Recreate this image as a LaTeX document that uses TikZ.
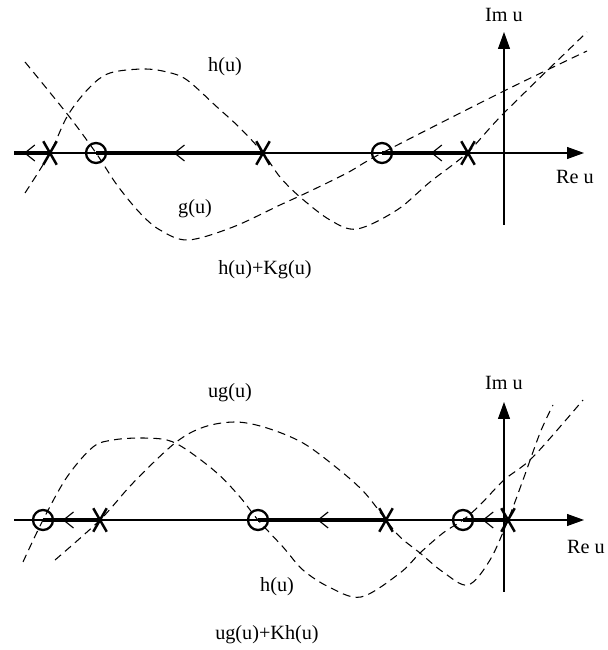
\documentclass[tikz,border=0pt]{standalone}
\usepackage{fontspec}
\setmainfont{Liberation Serif}
\usepackage{tikz}
\usetikzlibrary{arrows.meta, decorations.markings, shapes.misc}
\tikzset{
  axis/.style={line width=0.6pt, -{Triangle[length=0.34cm, width=0.24cm]}},
  locus/.style={line width=1.9pt},
  flow/.style={postaction={decorate}, decoration={markings,
    mark=at position #1 with {\draw[line width=0.65pt] (-0.2cm,0.16cm) -- (0,0) -- (-0.2cm,-0.16cm);}}},
  curve/.style={line width=0.6pt, dash pattern=on 4.5pt off 3pt},
  zero/.style={circle, draw, line width=1.3pt, minimum size=0.4cm, inner sep=0pt},
  pole/.style={cross out, draw, line width=1.4pt, minimum width=0.22cm, minimum height=0.42cm, inner sep=0pt},
}

\begin{document}
\begin{tikzpicture}[x=0.02cm, y=0.02cm, font=\fontsize{11.5pt}{13pt}\selectfont]
\useasboundingbox (0,0) rectangle (608,650);
% ===== top panel: h(u)+Kg(u) =====
\begin{scope}[shift={(504,497)}]
\coordinate (tl) at (-490,0);
\coordinate (tr) at (80,0);
\coordinate (tb) at (0,-72);
\coordinate (tt) at (0,121);
\draw[axis] (tl) -- (tr);
\draw[axis] (tb) -- (tt);
\node (tim) at (0,138) {Im u};
\node (tre) at (71,-24) {Re u};
% h(u): vanishes at the poles
\draw[curve] plot[smooth, tension=0.55] coordinates {(-479,-40) (-454,0) (-436,38) (-414,66)
  (-394,80) (-361,84) (-337,81) (-317,73) (-287,46) (-264,25) (-241,0) (-224,-24) (-204,-44)
  (-174,-67) (-147,-76) (-107,-57) (-74,-29) (-37,0) (0,40) (83,121)};
% g(u): vanishes at the zeros
\draw[curve] plot[smooth, tension=0.55] coordinates {(-479,91) (-436,38) (-408,0) (-387,-32)
  (-364,-60) (-344,-77) (-316,-87) (-271,-74) (-224,-52) (-202,-42) (-157,-20) (-122,0)
  (0,62) (83,102)};
\node (th) at (-279,86) {h(u)};
\node (tg) at (-309,-56) {g(u)};
\node (tsum) at (-239,-117) {h(u)+Kg(u)};
\node[pole] (tp1) at (-454,0) {};
\node[pole] (tp2) at (-241,0) {};
\node[pole] (tp3) at (-36,0) {};
\node[zero] (tz1) at (-408,0) {};
\node[zero] (tz2) at (-122,0) {};
\draw[locus, flow=0.7] (tp1.center) -- (tl);
\draw[locus, flow=0.53] (tp2.center) -- (tz1.center);
\draw[locus, flow=0.42] (tp3.center) -- (tz2.center);
\end{scope}
% ===== bottom panel: ug(u)+Kh(u) =====
\begin{scope}[shift={(504,130)}]
\coordinate (bl) at (-490,0);
\coordinate (br) at (80,0);
\coordinate (bb) at (0,-72);
\coordinate (bt) at (0,118);
\draw[axis] (bl) -- (br);
\draw[axis] (bb) -- (bt);
\node (bim) at (0,137) {Im u};
\node (bre) at (82,-27) {Re u};
% h(u): vanishes at the zeros
\draw[curve] plot[smooth, tension=0.55] coordinates {(-481,-42) (-461,0) (-437,43) (-411,73)
  (-391,80) (-364,82) (-337,80) (-317,70) (-287,47) (-264,23) (-246,0) (-221,-27) (-201,-50)
  (-175,-67) (-143,-77) (-104,-53) (-84,-33) (-61,-13) (-41,0) (-24,15) (0,40) (29,63) (79,120)};
% ug(u): vanishes at the poles
\draw[curve] plot[smooth, tension=0.55] coordinates {(-449,-40) (-404,0) (-371,37) (-329,77)
  (-300,93) (-268,98) (-237,92) (-201,77) (-167,52) (-140,28) (-118,0) (-104,-17) (-84,-33)
  (-61,-52) (-36,-65) (-14,-40) (4,0) (19,40) (36,87) (49,115)};
\node (bug) at (-274,127) {ug(u)};
\node (bh) at (-227,-67) {h(u)};
\node (bsum) at (-237,-115) {ug(u)+Kh(u)};
\node[pole] (bp1) at (-404,0) {};
\node[pole] (bp2) at (-118,0) {};
\node[pole] (bp3) at (4,0) {};
\node[zero] (bz1) at (-461,0) {};
\node[zero] (bz2) at (-246,0) {};
\node[zero] (bz3) at (-41,0) {};
\draw[locus, flow=0.64] (bp1.center) -- (bz1.center);
\draw[locus, flow=0.53] (bp2.center) -- (bz2.center);
\draw[locus, flow=0.55] (bp3.center) -- (bz3.center);
\end{scope}
\end{tikzpicture}
\end{document}
